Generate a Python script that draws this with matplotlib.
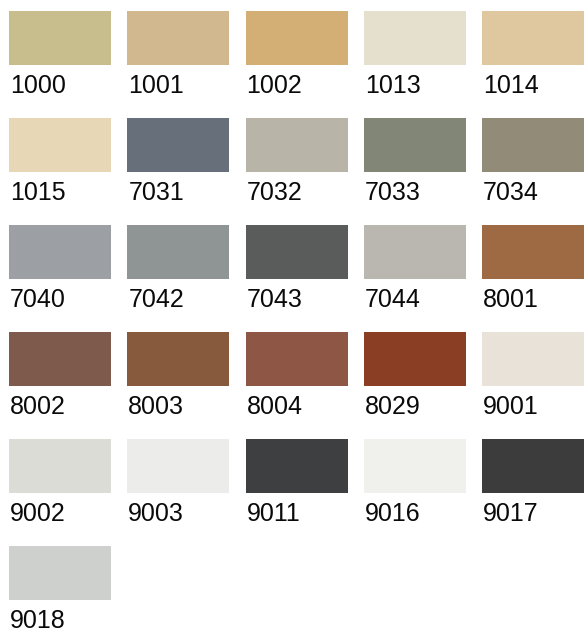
import matplotlib
matplotlib.use("Agg")
import matplotlib.pyplot as plt
from matplotlib.patches import Rectangle

codes = ["1000", "1001", "1002", "1013", "1014",
         "1015", "7031", "7032", "7033", "7034",
         "7040", "7042", "7043", "7044", "8001",
         "8002", "8003", "8004", "8029", "9001",
         "9002", "9003", "9011", "9016", "9017",
         "9018"]
colors = ["#C8BE8D", "#D1B88E", "#D3AF76", "#E5DFCE", "#DFC8A0",
          "#E8D7B7", "#67707A", "#B8B5A8", "#828677", "#928B77",
          "#9CA0A5", "#8F9494", "#5A5C5B", "#BAB7B1", "#9E6A43",
          "#7E5A4D", "#885A3D", "#8E5645", "#8A3F24", "#E8E2D8",
          "#DCDCD6", "#ECECEA", "#3E3F41", "#F0F0EC", "#3C3C3D",
          "#CDD0CD"]

ncols = 5
W, H = 587, 632
fig = plt.figure(figsize=(W / 100, H / 100), dpi=100)
ax = fig.add_axes([0, 0, 1, 1])
ax.set_xlim(0, W)
ax.set_ylim(H, 0)
ax.axis("off")

x0, dx, sw = 9, 118.3, 102
y0, dy, sh = 11, 107, 54

for i, (c, col) in enumerate(zip(codes, colors)):
    r, k = divmod(i, ncols)
    x = x0 + k * dx
    y = y0 + r * dy
    ax.add_patch(Rectangle((x, y), sw, sh, facecolor=col, edgecolor="none"))
    ax.text(x + 1, y + sh + 28, c, fontsize=18, family="Liberation Sans",
            color="#0A0A0A", ha="left", va="baseline")

fig.savefig("out.png", dpi=100, facecolor="white")
